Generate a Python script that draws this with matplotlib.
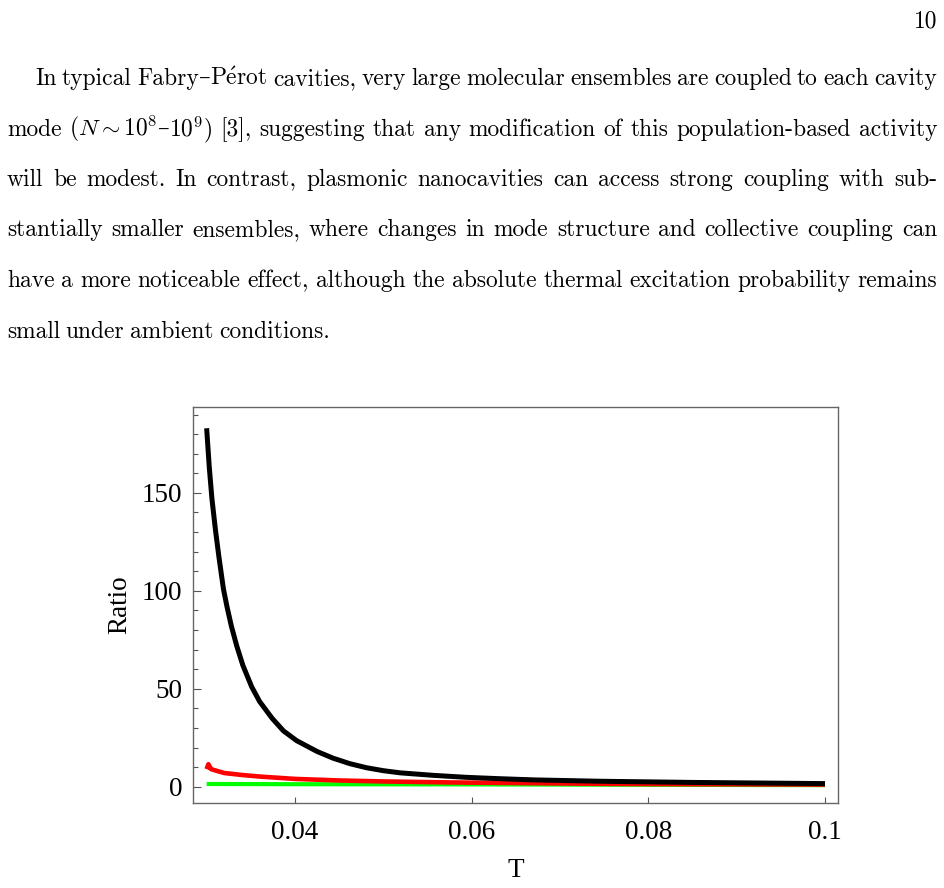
import numpy as np
import matplotlib
matplotlib.use("Agg")
import matplotlib.pyplot as plt
from matplotlib.ticker import MultipleLocator, FixedLocator

plt.rcParams['mathtext.fontset'] = 'cm'

W, H = 944, 888

# page text ('|' joins pieces of one word without a gap)
page_number = "10"
paragraph = [
    r"In typical Fabry|–|P$\acute{\mathrm{e}}$rot cavities, very large molecular ensembles are coupled to each cavity",
    r"mode ($N\sim10^8$|–|$10^9$) [3], suggesting that any modification of this population-based activity",
    "will be modest.  In contrast, plasmonic nanocavities can access strong coupling with sub-",
    "stantially smaller ensembles, where changes in mode structure and collective coupling can",
    "have a more noticeable effect, although the absolute thermal excitation probability remains",
    "small under ambient conditions.",
]

# curves
T_black = [0.0300, 0.0303, 0.0306, 0.0310, 0.0314, 0.0319, 0.0323, 0.0328, 0.0334,
           0.0341, 0.0351, 0.0360, 0.0374, 0.0387, 0.0402, 0.0425, 0.0443, 0.0462,
           0.0481, 0.0500, 0.0519, 0.0557, 0.0594, 0.0632, 0.0670, 0.0745, 0.0850, 0.1000]
ratio_black = [183, 163, 147, 131, 117, 101, 92, 82, 72,
               62, 51, 43.5, 35, 28.5, 23.5, 18.0, 14.6, 11.8,
               9.7, 8.2, 7.1, 5.8, 4.8, 4.1, 3.5, 2.8, 2.2, 1.6]

T_red = [0.0300, 0.0302, 0.0305, 0.0310, 0.0320, 0.0340, 0.0360, 0.0400,
         0.0450, 0.0500, 0.0575, 0.0650, 0.0745, 0.0850, 0.1000]
ratio_red = [9.0, 11.5, 9.0, 8.3, 7.0, 6.0, 5.2, 4.0,
             3.2, 2.7, 2.2, 1.9, 1.5, 1.3, 1.1]

T_green = [0.0300, 0.0400, 0.0600, 0.0800, 0.1000]
ratio_green = [1.4, 1.3, 1.2, 1.0, 0.8]

x_ticks = [0.04, 0.06, 0.08, 0.1]
x_tick_labels = ["0.04", "0.06", "0.08", "0.1"]

fig = plt.figure(figsize=(W / 100, H / 100), dpi=100)
renderer = fig.canvas.get_renderer()

body_font = ['cmr10', 'DejaVu Serif']
body_size = 16.9


def justified_line(text, baseline, x0, x1, last=False):
    words = []
    for w in text.split():
        pieces = [fig.text(0, 1 - baseline / H, p, fontsize=body_size, family=body_font,
                           va='baseline', ha='left') for p in w.split('|')]
        widths = [p.get_window_extent(renderer).width for p in pieces]
        words.append((pieces, widths))
    total = sum(sum(ws) for _, ws in words)
    if last or len(words) < 2:
        gap = 5.5
    else:
        gap = (x1 - x0 - total) / (len(words) - 1)
    x = x0
    for pieces, widths in words:
        for p, w in zip(pieces, widths):
            p.set_x(x / W)
            x += w
        x += gap


fig.text(937 / W, 1 - 28 / H, page_number, fontsize=body_size, family=body_font,
         ha='right', va='baseline')

baselines = [85, 136, 186, 236, 287, 338]
for i, line in enumerate(paragraph):
    left = 35 if i == 0 else 7
    justified_line(line, baselines[i], left, 937, last=(i == len(paragraph) - 1))

# chart
ax = fig.add_axes([193.3 / W, 1 - 803 / H, (837.7 - 193.3) / W, (803 - 406.7) / H])
ax.plot(T_green, ratio_green, color='#00ff00', lw=3.0, solid_capstyle='butt')
ax.plot(T_red, ratio_red, color='#ff0000', lw=3.3, solid_capstyle='butt')
ax.plot(T_black, ratio_black, color='black', lw=3.6, solid_capstyle='butt')

ax.set_xlim(0.02849, 0.10144)
ax.set_ylim(-8.3, 194)

ax.xaxis.set_major_locator(FixedLocator(x_ticks))
ax.set_xticklabels(x_tick_labels)
ax.yaxis.set_major_locator(MultipleLocator(50))
ax.yaxis.set_minor_locator(MultipleLocator(10))

chart_font = 'Liberation Serif'
for sp in ax.spines.values():
    sp.set_color('#666666')
    sp.set_linewidth(1.0)
ax.tick_params(axis='both', which='both', direction='in', color='#555555',
               labelsize=19.5, top=False, right=False)
ax.tick_params(axis='y', which='major', length=5.5, width=0.8, pad=8)
ax.tick_params(axis='y', which='minor', length=3.5, width=0.8)
ax.tick_params(axis='x', which='major', length=4.5, width=0.8, pad=12)
for lab in ax.get_xticklabels() + ax.get_yticklabels():
    lab.set_family(chart_font)

ax.set_xlabel("T", fontsize=19.5, family=chart_font)
ax.set_ylabel("Ratio", fontsize=19.5, family=chart_font)
ax.xaxis.set_label_coords(0.5, -0.14)
ax.yaxis.set_label_coords(-0.095, 0.5)

fig.savefig("out.png", dpi=100)
